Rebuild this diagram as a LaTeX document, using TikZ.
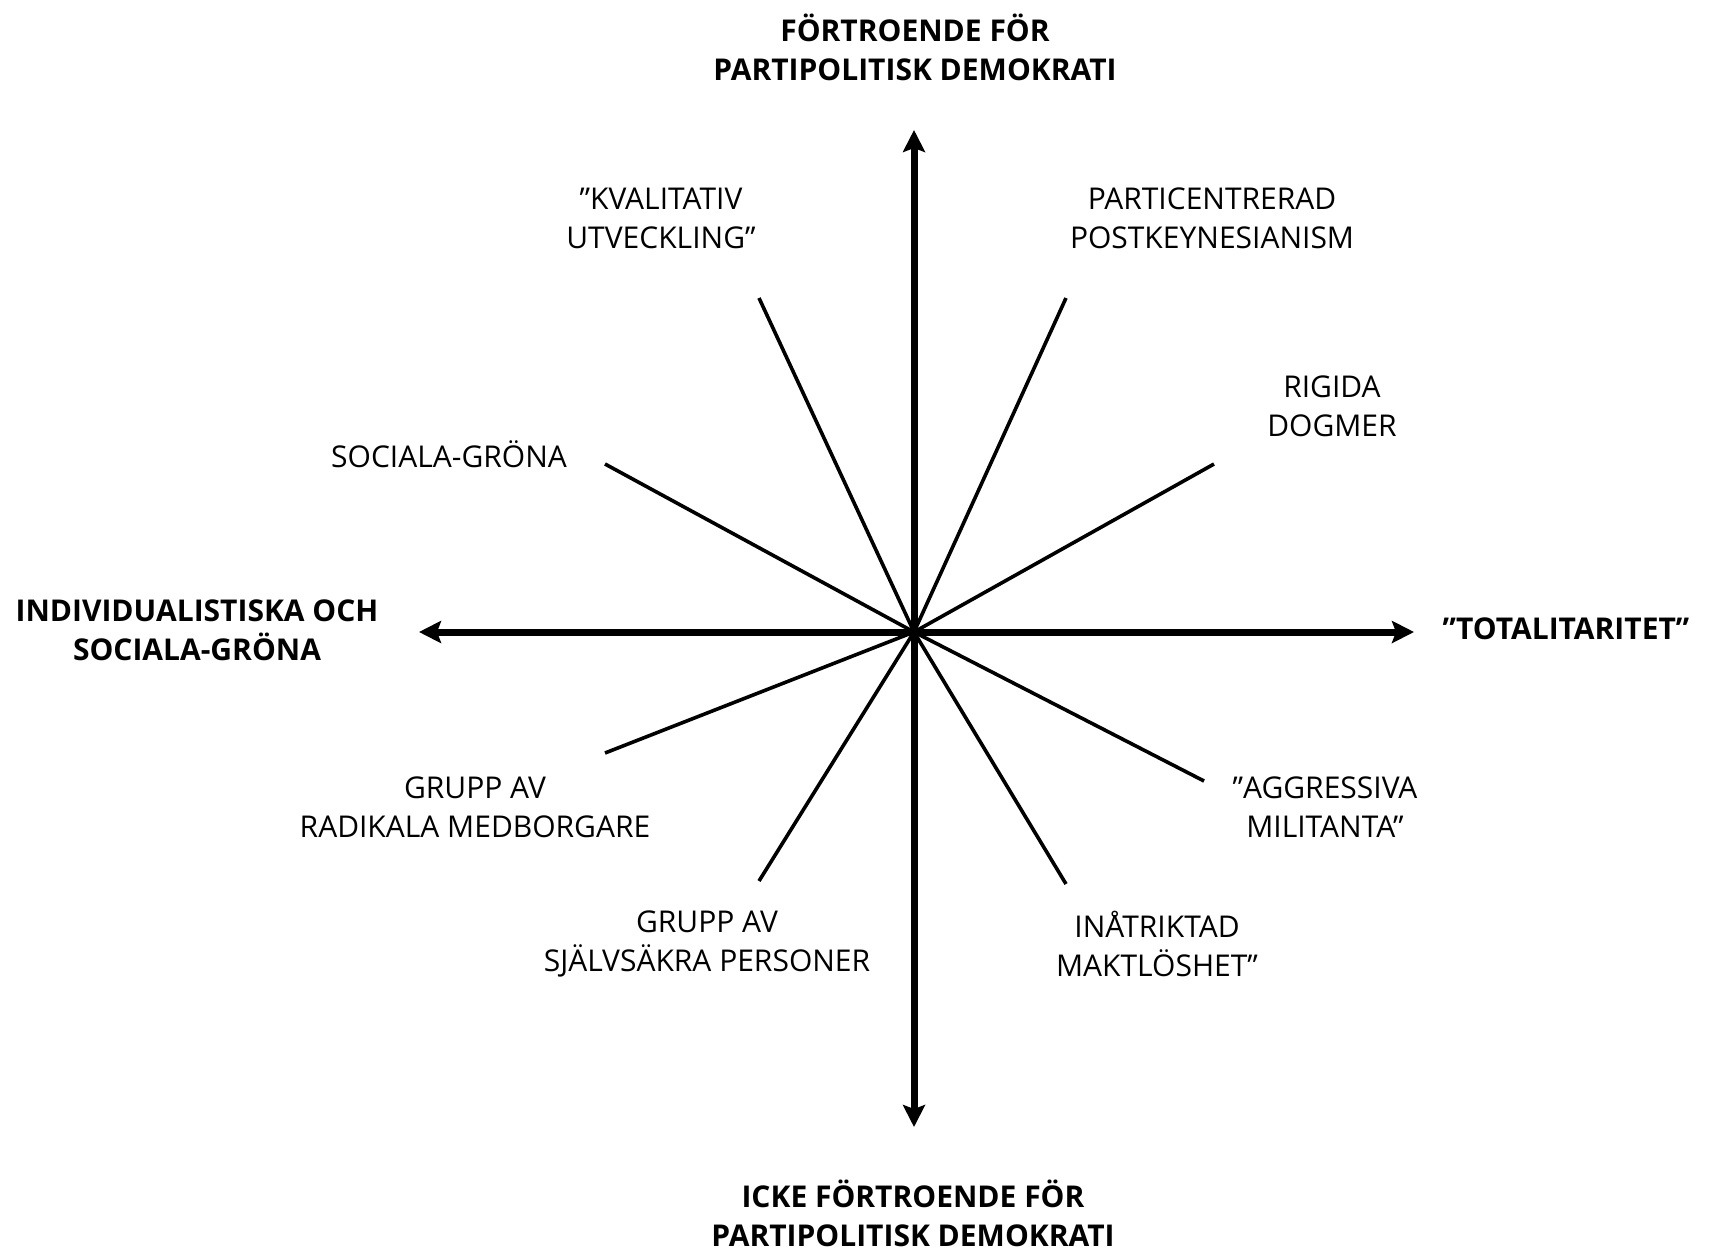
\documentclass[tikz,border=0pt]{standalone}
\usepackage{fontspec}
\setmainfont{Open Sans}
\usetikzlibrary{arrows.meta}
\begin{document}
\begin{tikzpicture}[x=1pt,y=-1pt,
  axis/.style={line width=7pt,{Stealth[inset=4pt,width=22pt,length=22pt]}-{Stealth[inset=4pt,width=22pt,length=22pt]}},
  spoke/.style={line width=3.6pt},
  lbl/.style={font=\fontsize{30}{39}\selectfont,align=center,inner sep=0pt},
  ttl/.style={font=\fontsize{30}{39}\selectfont\bfseries,align=center,inner sep=0pt}]
\useasboundingbox (0,0) rectangle (1720,1250);
\coordinate (c) at (914,632);
\coordinate (top) at (914,130);
\coordinate (bot) at (914,1127);
\coordinate (lft) at (419,632);
\coordinate (rgt) at (1414,632);
\coordinate (s1) at (759,298);
\coordinate (s2) at (1066,298);
\coordinate (s3) at (605,464);
\coordinate (s4) at (1214,464);
\coordinate (s5) at (605,753);
\coordinate (s6) at (1204,781);
\coordinate (s7) at (759,881);
\coordinate (s8) at (1066,884);
\foreach \s in {s1,s2,s3,s4,s5,s6,s7,s8} \draw[spoke] (c) -- (\s);
\draw[axis] (top) -- (bot);
\draw[axis] (lft) -- (rgt);
\node[ttl] (tT) at (915,47) {FÖRTROENDE FÖR\\PARTIPOLITISK DEMOKRATI};
\node[ttl] (tB) at (913,1213) {ICKE FÖRTROENDE FÖR\\PARTIPOLITISK DEMOKRATI};
\node[ttl] (tL) at (197,630) {INDIVIDUALISTISKA OCH\\SOCIALA-GRÖNA};
\node[ttl] (tR) at (1566,629) {”TOTALITARITET”};
\node[lbl] (l1) at (661,218) {”KVALITATIV\\UTVECKLING”};
\node[lbl] (l2) at (1212,218) {PARTICENTRERAD\\POSTKEYNESIANISM};
\node[lbl] (l3) at (1332,406) {RIGIDA\\DOGMER};
\node[lbl] (l4) at (449,454) {SOCIALA-GRÖNA};
\node[lbl] (l5) at (475,807) {GRUPP AV\\RADIKALA MEDBORGARE};
\node[lbl] (l6) at (1325,807) {”AGGRESSIVA\\MILITANTA”};
\node[lbl] (l7) at (707,944) {GRUPP AV\\SJÄLVSÄKRA PERSONER};
\node[lbl] (l8) at (1157,944) {INÅTRIKTAD\\MAKTLÖSHET”};
\end{tikzpicture}
\end{document}
